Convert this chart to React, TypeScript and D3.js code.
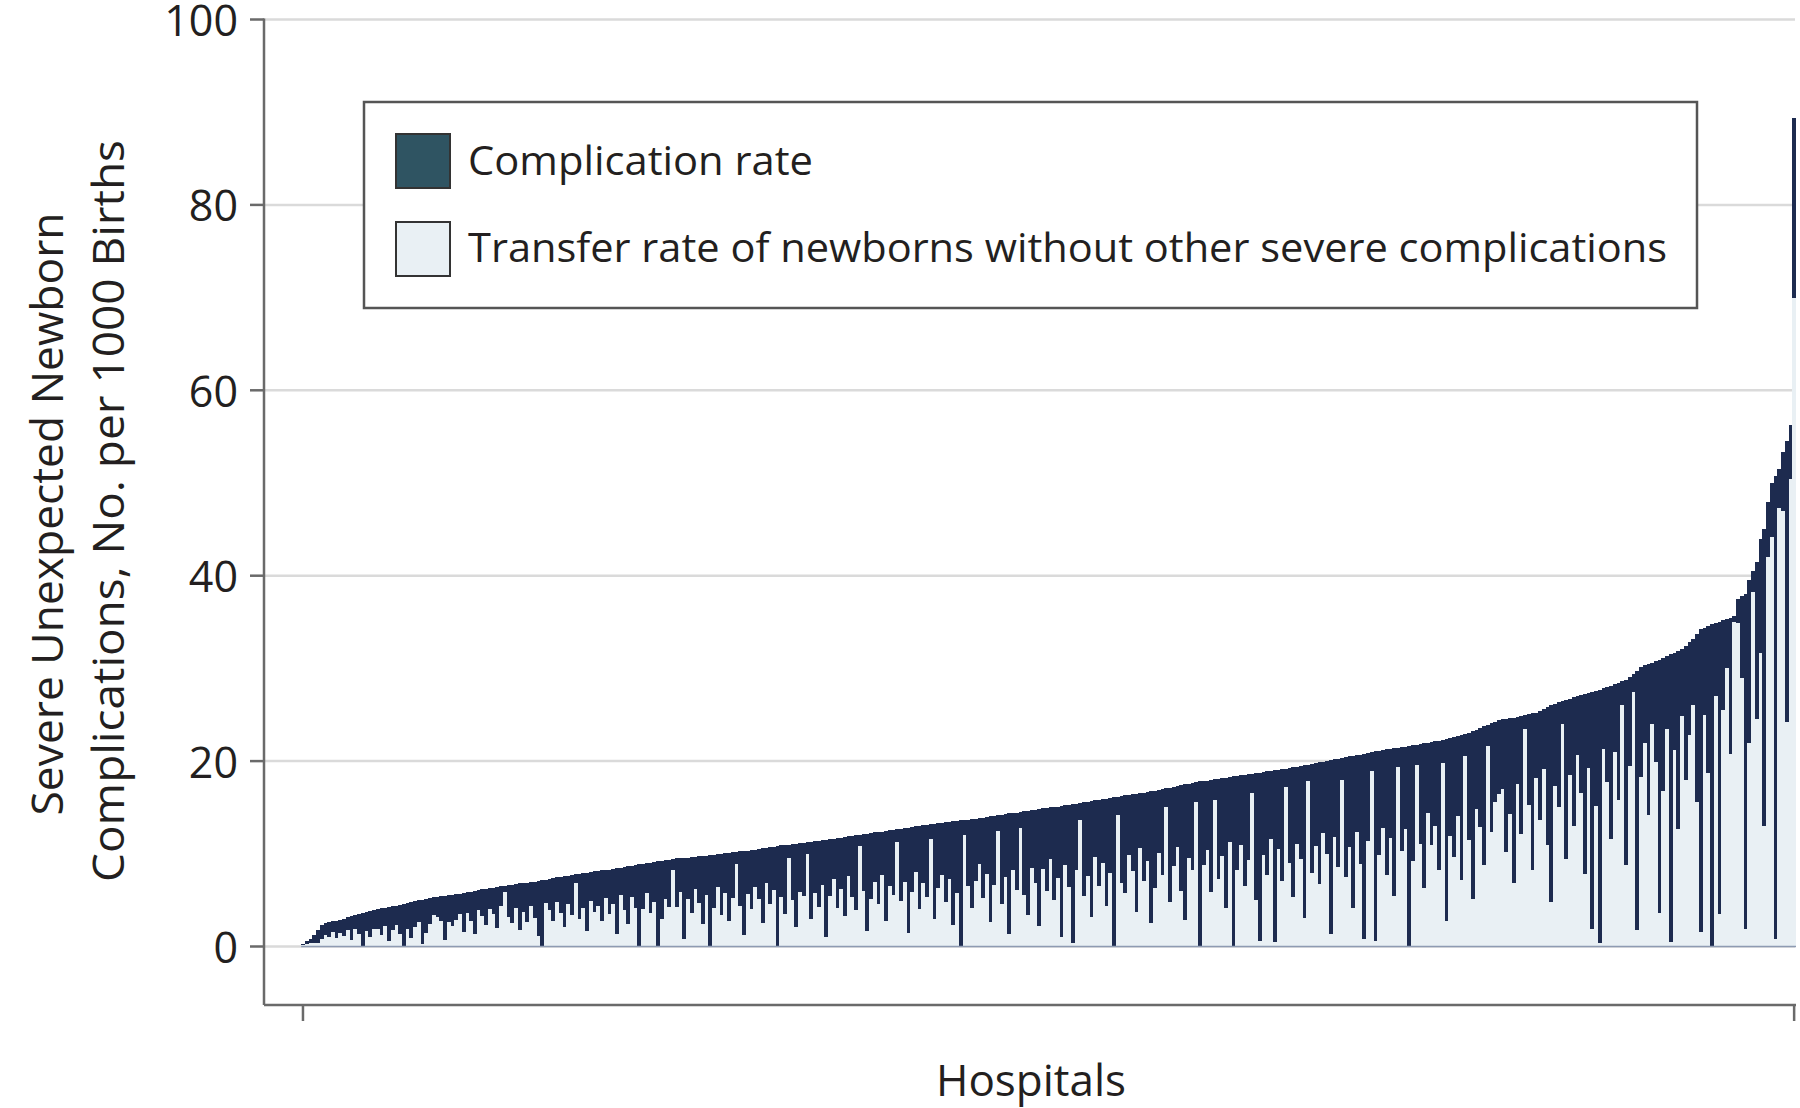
import React from 'react';
import * as d3 from 'd3';

// Total severe unexpected newborn complication rate per hospital (sorted), per 1000 births
const totalRate: number[] = [
  0.3, 0.6, 0.8, 1.2, 1.8, 2.3, 2.5, 2.6, 2.7, 2.8, 2.9, 3.0, 3.2, 3.3, 3.4, 3.5, 3.6, 3.7, 3.8, 3.9,
  4.0, 4.1, 4.2, 4.3, 4.35, 4.4, 4.5, 4.6, 4.7, 4.8, 4.9, 5.0, 5.05, 5.1, 5.2, 5.3, 5.35, 5.4, 5.5, 5.55,
  5.6, 5.65, 5.7, 5.8, 5.85, 5.9, 6.0, 6.1, 6.15, 6.2, 6.3, 6.35, 6.4, 6.5, 6.55, 6.6, 6.65, 6.7, 6.8, 6.85,
  6.9, 6.95, 7.0, 7.1, 7.15, 7.2, 7.3, 7.4, 7.45, 7.5, 7.6, 7.65, 7.7, 7.8, 7.85, 7.9, 7.95, 8.0, 8.1, 8.15,
  8.2, 8.25, 8.3, 8.4, 8.45, 8.5, 8.6, 8.65, 8.7, 8.8, 8.9, 8.95, 9.0, 9.05, 9.1, 9.2, 9.25, 9.3, 9.35, 9.4,
  9.5, 9.5, 9.55, 9.6, 9.65, 9.7, 9.75, 9.8, 9.8, 9.85, 9.9, 9.95, 10.0, 10.05, 10.1, 10.15, 10.2, 10.25, 10.3, 10.35,
  10.4, 10.45, 10.5, 10.6, 10.65, 10.7, 10.75, 10.8, 10.9, 10.95, 11.0, 11.05, 11.1, 11.15, 11.2, 11.25, 11.3, 11.35, 11.4, 11.45,
  11.5, 11.55, 11.6, 11.7, 11.75, 11.8, 11.9, 11.95, 12.0, 12.05, 12.1, 12.15, 12.2, 12.3, 12.35, 12.4, 12.5, 12.55, 12.6, 12.65,
  12.7, 12.75, 12.8, 12.9, 12.95, 13.0, 13.1, 13.15, 13.2, 13.25, 13.3, 13.35, 13.4, 13.45, 13.5, 13.55, 13.6, 13.65, 13.7, 13.75,
  13.8, 13.85, 13.9, 14.0, 14.05, 14.1, 14.15, 14.2, 14.3, 14.35, 14.4, 14.45, 14.5, 14.6, 14.65, 14.7, 14.75, 14.8, 14.9, 14.95,
  15.0, 15.05, 15.1, 15.2, 15.25, 15.3, 15.35, 15.4, 15.5, 15.55, 15.6, 15.7, 15.75, 15.8, 15.9, 15.95, 16.0, 16.1, 16.15, 16.2,
  16.3, 16.35, 16.4, 16.5, 16.55, 16.6, 16.7, 16.75, 16.8, 16.9, 17.0, 17.1, 17.15, 17.2, 17.3, 17.4, 17.5, 17.55, 17.6, 17.7,
  17.8, 17.85, 17.9, 18.0, 18.05, 18.1, 18.15, 18.2, 18.3, 18.35, 18.4, 18.45, 18.5, 18.6, 18.65, 18.7, 18.75, 18.8, 18.9, 18.95,
  19.0, 19.05, 19.1, 19.2, 19.3, 19.35, 19.4, 19.5, 19.55, 19.6, 19.7, 19.8, 19.85, 19.9, 20.0, 20.1, 20.2, 20.25, 20.3, 20.4,
  20.5, 20.6, 20.65, 20.7, 20.8, 20.9, 21.0, 21.05, 21.1, 21.2, 21.3, 21.35, 21.4, 21.45, 21.5, 21.55, 21.6, 21.7, 21.75, 21.8,
  21.9, 22.0, 22.1, 22.15, 22.2, 22.3, 22.4, 22.5, 22.6, 22.7, 22.8, 22.9, 23.0, 23.2, 23.4, 23.6, 23.8, 23.9, 24.1, 24.2,
  24.4, 24.5, 24.55, 24.6, 24.7, 24.8, 24.9, 25.0, 25.1, 25.15, 25.2, 25.4, 25.6, 25.8, 26.0, 26.2, 26.4, 26.5, 26.6, 26.75,
  26.9, 27.0, 27.1, 27.2, 27.3, 27.5, 27.6, 27.7, 27.85, 28.0, 28.15, 28.3, 28.45, 28.6, 28.8, 29.1, 29.4, 29.7, 30.2, 30.35,
  30.5, 30.6, 30.8, 30.95, 31.1, 31.3, 31.5, 31.7, 31.9, 32.1, 32.4, 32.8, 33.2, 33.7, 34.2, 34.4, 34.6, 34.8, 34.9, 35.0,
  35.2, 35.3, 35.4, 35.6, 37.5, 37.8, 38.0, 39.5, 40.5, 41.5, 44.0, 45.0, 48.0, 50.0, 50.8, 51.5, 53.3, 54.5, 56.3, 89.4,
];

// Transfer rate of newborns without other severe complications, per hospital (same order)
const transferRate: number[] = [
  0.2, 0.3, 0.4, 0.4, 0.4, 0.8, 1.2, 1.0, 1.6, 0.9, 1.5, 1.1, 1.8, 0.7, 1.9, 1.3, 0.0, 1.7, 1.0, 1.9,
  1.9, 1.2, 2.2, 0.6, 1.8, 2.3, 1.4, 0.0, 1.9, 0.9, 2.1, 2.6, 0.3, 1.5, 2.4, 3.4, 3.2, 2.7, 0.7, 2.6,
  2.2, 2.9, 3.5, 1.6, 3.6, 2.7, 1.3, 3.9, 3.3, 2.3, 4.0, 3.5, 2.0, 4.4, 5.9, 3.2, 2.5, 4.1, 1.8, 3.7,
  2.6, 4.4, 3.1, 1.1, 0.0, 4.7, 3.9, 2.8, 4.8, 3.6, 2.1, 4.6, 3.4, 6.9, 3.0, 4.1, 1.7, 4.9, 3.7, 4.4,
  2.8, 5.2, 3.5, 4.6, 1.3, 5.6, 3.9, 2.4, 5.3, 4.2, 0.0, 4.0, 5.8, 3.6, 4.8, 0.0, 3.0, 5.1, 4.3, 8.2,
  4.3, 5.9, 0.8, 5.1, 3.6, 6.2, 4.7, 2.4, 5.6, 0.0, 4.2, 6.4, 3.4, 5.8, 2.7, 5.2, 8.9, 4.4, 1.2, 5.7,
  4.0, 6.4, 5.1, 2.5, 6.9, 4.6, 6.1, 0.0, 5.3, 3.5, 9.6, 5.0, 2.1, 5.9, 5.4, 10.0, 3.0, 5.8, 4.3, 6.6,
  1.0, 5.5, 7.3, 4.2, 6.2, 3.3, 7.6, 5.3, 3.9, 10.8, 6.0, 1.7, 5.1, 7.0, 4.6, 7.7, 2.8, 6.5, 5.6, 11.3,
  4.9, 7.0, 1.5, 5.9, 8.0, 4.0, 6.8, 5.3, 11.6, 3.0, 6.3, 7.7, 4.8, 7.3, 2.3, 5.8, 0.0, 12.0, 6.5, 4.2,
  7.1, 8.9, 5.2, 7.8, 2.6, 6.6, 12.5, 4.6, 7.5, 1.3, 8.2, 6.1, 12.8, 5.6, 3.4, 8.5, 6.9, 2.2, 8.4, 6.0,
  9.4, 5.0, 7.4, 1.0, 8.8, 6.4, 0.4, 8.3, 13.6, 5.4, 7.6, 3.2, 9.7, 6.5, 9.0, 4.4, 7.9, 0.0, 14.2, 6.8,
  5.8, 9.9, 8.1, 3.7, 10.6, 7.1, 9.2, 2.5, 6.3, 10.1, 7.7, 15.0, 4.8, 8.7, 10.7, 6.0, 2.9, 9.6, 8.2, 15.6,
  0.0, 8.8, 10.4, 5.9, 15.8, 7.3, 9.8, 4.1, 11.3, 0.0, 8.3, 10.9, 6.5, 9.3, 16.6, 5.0, 0.6, 9.9, 7.7, 11.6,
  0.5, 10.5, 7.1, 17.2, 9.0, 5.3, 11.1, 9.4, 3.1, 17.8, 7.9, 10.8, 6.7, 12.2, 10.0, 1.3, 11.8, 8.6, 18.0, 7.5,
  10.7, 4.2, 12.4, 8.9, 0.8, 11.4, 18.9, 0.6, 9.9, 12.8, 7.7, 11.7, 5.4, 19.4, 10.3, 12.7, 0.0, 9.2, 19.6, 11.1,
  6.3, 14.4, 11.0, 13.0, 8.3, 19.8, 2.7, 11.9, 9.7, 14.1, 7.2, 20.6, 11.5, 5.1, 14.8, 12.9, 8.8, 21.6, 12.4, 15.6,
  16.5, 17.0, 10.2, 14.3, 6.9, 17.5, 12.1, 23.5, 15.3, 8.2, 18.2, 13.7, 19.1, 10.9, 4.8, 17.3, 15.0, 24.0, 9.4, 18.5,
  13.0, 20.7, 16.6, 7.8, 19.3, 1.9, 15.2, 0.4, 21.3, 17.7, 11.6, 21.0, 15.8, 26.0, 8.8, 19.5, 27.5, 1.8, 18.3, 22.0,
  14.2, 24.0, 19.9, 3.6, 16.8, 23.5, 0.5, 21.2, 12.7, 24.9, 18.0, 22.8, 26.0, 15.6, 1.6, 25.0, 18.7, 0.0, 27.0, 3.5,
  25.5, 30.0, 20.8, 35.0, 34.9, 29.0, 1.9, 22.0, 38.2, 24.5, 31.7, 13.0, 42.0, 44.2, 0.8, 47.3, 47.0, 24.2, 50.4, 70.0,
];

const yTicks: number[] = [0, 20, 40, 60, 80, 100];
const legendLabels: string[] = [
  'Complication rate',
  'Transfer rate of newborns without other severe complications',
];
const yTitleLines: string[] = ['Severe Unexpected Newborn', 'Complications, No. per 1000 Births'];
const xTitle = 'Hospitals';

const DARK = '#1d2b4f';
const LIGHT = '#e9f0f4';
const LEGEND_DARK = '#2f5462';
const GRID = '#dadada';
const AXIS = '#6a6a6a';
const TEXT = '#231f20';
const FONT = '"Open Sans", "Noto Sans", sans-serif';

export default function App() {
  const W = 1800;
  const H = 1108;
  const hospitals = totalRate.map((_, i) => i);

  const x = d3.scaleBand<number>().domain(hospitals).range([301.1, 1796]).padding(0);
  const y = d3.scaleLinear().domain([0, 100]).range([946.5, 19.5]);

  const axisX = 264;
  const axisBottom = 1005;
  const plotRight = 1795;
  const bw = x.bandwidth();
  const firstC = (x(hospitals[0]) as number) + bw / 2;
  const lastC = (x(hospitals[hospitals.length - 1]) as number) + bw / 2;

  return (
    <svg
      width={W}
      height={H}
      viewBox={`0 0 ${W} ${H}`}
      style={{ position: 'absolute', left: 0, top: 0, background: '#fff' }}
      fontFamily={FONT}
    >
      <rect x={0} y={0} width={W} height={H} fill="#fff" />
      {/* gridlines */}
      {yTicks.map((t) => (
        <line key={'g' + t} x1={axisX} x2={plotRight} y1={y(t)} y2={y(t)} stroke={GRID} strokeWidth={2.5} />
      ))}

      {/* bars */}
      <g shapeRendering="crispEdges">
        {hospitals.map((h) => (
          <rect
            key={'d' + h}
            x={x(h)}
            y={y(totalRate[h])}
            width={bw}
            height={y(0) - y(totalRate[h])}
            fill={DARK}
          />
        ))}
        {hospitals.map((h) => (
          <rect
            key={'l' + h}
            x={x(h)}
            y={y(transferRate[h])}
            width={bw}
            height={y(0) - y(transferRate[h])}
            fill={LIGHT}
          />
        ))}
      </g>
      <line x1={x(0)} x2={(x(hospitals[hospitals.length - 1]) as number) + bw} y1={y(0)} y2={y(0)} stroke="#8e9bb2" strokeWidth={1.5} />

      {/* y axis */}
      <line x1={axisX} x2={axisX} y1={y(100) - 1} y2={axisBottom} stroke={AXIS} strokeWidth={2.5} />
      {yTicks.map((t) => (
        <g key={'t' + t}>
          <line x1={axisX - 14} x2={axisX} y1={y(t)} y2={y(t)} stroke={AXIS} strokeWidth={2.5} />
          <text x={238} y={y(t) + 1} dy="0.36em" textAnchor="end" fontSize={43} fill={TEXT}>
            {t}
          </text>
        </g>
      ))}

      {/* x axis */}
      <line x1={axisX} x2={plotRight + 1} y1={axisBottom} y2={axisBottom} stroke={AXIS} strokeWidth={2.5} />
      <line x1={firstC} x2={firstC} y1={axisBottom} y2={axisBottom + 16} stroke={AXIS} strokeWidth={2.5} />
      <line x1={lastC} x2={lastC} y1={axisBottom} y2={axisBottom + 16} stroke={AXIS} strokeWidth={2.5} />

      {/* axis titles */}
      <text x={1031} y={1096} textAnchor="middle" fontSize={44} fill={TEXT}>
        {xTitle}
      </text>
      <text
        transform="translate(63, 514) rotate(-90)"
        textAnchor="middle"
        fontSize={44}
        fill={TEXT}
        textLength={603}
        lengthAdjust="spacingAndGlyphs"
      >
        {yTitleLines[0]}
      </text>
      <text
        transform="translate(124, 511) rotate(-90)"
        textAnchor="middle"
        fontSize={44}
        fill={TEXT}
        textLength={742}
        lengthAdjust="spacingAndGlyphs"
      >
        {yTitleLines[1]}
      </text>

      {/* legend */}
      <rect x={364} y={102} width={1333} height={206} fill="#fff" stroke="#555" strokeWidth={2.5} />
      <rect x={396} y={134} width={54} height={54} fill={LEGEND_DARK} stroke="#333" strokeWidth={2} />
      <rect x={396} y={222} width={54} height={54} fill={LIGHT} stroke="#333" strokeWidth={2} />
      <text x={468} y={175} fontSize={40} fill={TEXT} textLength={345} lengthAdjust="spacingAndGlyphs">
        {legendLabels[0]}
      </text>
      <text x={468} y={262} fontSize={40} fill={TEXT} textLength={1199} lengthAdjust="spacingAndGlyphs">
        {legendLabels[1]}
      </text>
    </svg>
  );
}
